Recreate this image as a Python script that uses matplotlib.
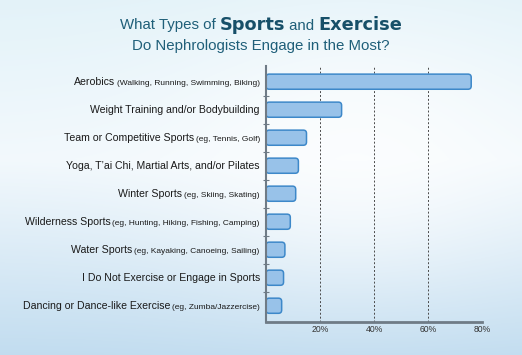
import numpy as np
import matplotlib
matplotlib.use("Agg")
import matplotlib.pyplot as plt
from matplotlib.patches import FancyBboxPatch

main_labels = [
    "Aerobics",
    "Weight Training and/or Bodybuilding",
    "Team or Competitive Sports",
    "Yoga, T\u2019ai Chi, Martial Arts, and/or Pilates",
    "Winter Sports",
    "Wilderness Sports",
    "Water Sports",
    "I Do Not Exercise or Engage in Sports",
    "Dancing or Dance-like Exercise",
]
paren_labels = [
    "(Walking, Running, Swimming, Biking)",
    "",
    "(eg, Tennis, Golf)",
    "",
    "(eg, Skiing, Skating)",
    "(eg, Hunting, Hiking, Fishing, Camping)",
    "(eg, Kayaking, Canoeing, Sailing)",
    "",
    "(eg, Zumba/Jazzercise)",
]
values = [76, 28, 15, 12, 11, 9, 7, 6.5, 5.8]
xticks = [20, 40, 60, 80]
xtick_labels = ["20%", "40%", "60%", "80%"]

FONT = "Liberation Sans"
plt.rcParams["font.family"] = [FONT, "DejaVu Sans"]

W, H = 522, 355
fig = plt.figure(figsize=(W / 100, H / 100), dpi=100)

# background gradient
bg = fig.add_axes([0, 0, 1, 1], zorder=-10)
yy, xx = np.mgrid[0:1:200j, 0:1:300j]
top = np.array([0.89, 0.95, 0.975])
mid = np.array([0.95, 0.975, 0.99])
bot = np.array([0.76, 0.865, 0.94])
t = yy[..., None]
col = np.where(t < 0.45, top + (mid - top) * (t / 0.45), mid + (bot - mid) * ((t - 0.45) / 0.55))
glow = np.exp(-(((xx - 0.68) / 0.35) ** 2 + ((yy - 0.42) / 0.38) ** 2))[..., None]
col = col + (1 - col) * 0.7 * glow
col = np.clip(col, 0, 1)
bg.imshow(col, aspect="auto", extent=[0, 1, 0, 1], origin="upper")
bg.set_axis_off()

ax = fig.add_axes([266 / W, 1 - 321.7 / H, (482 - 266) / W, (321.7 - 66) / H])
ax.patch.set_alpha(0)
n = len(values)
ax.set_xlim(0, 80)
ax.set_ylim(n - 1 + 0.57, -0.56)

px_x = 216 / 80.0
px_y = 28.0
bar_h = 0.54
r = 3.2
for i, v in enumerate(values):
    p = FancyBboxPatch((0, i - bar_h / 2), v, bar_h,
                       boxstyle=f"round,pad=0,rounding_size={r / px_x}",
                       mutation_aspect=px_x / px_y,
                       facecolor="#98c2e9", edgecolor="#3d88c9", linewidth=1.1, zorder=3)
    ax.add_patch(p)

for x in xticks:
    ax.axvline(x, color="#4a4a4a", linestyle=(0, (2.0, 2.0)), linewidth=0.7, zorder=1)

for s in ["top", "right"]:
    ax.spines[s].set_visible(False)
ax.spines["bottom"].set_color("#6f7b86")
ax.spines["bottom"].set_linewidth(2)
ax.spines["left"].set_color("#6f7b86")
ax.spines["left"].set_linewidth(1.5)
ax.spines["left"].set_zorder(4)

ax.set_xticks(xticks)
ax.set_xticklabels(xtick_labels, fontsize=6.2, color="#333333")
ax.tick_params(axis="x", length=0, pad=2.5)
ax.set_yticks([])
ax.set_yticks([i + 0.5 for i in range(n - 1)], minor=True)
ax.tick_params(axis="y", which="minor", direction="inout", length=5, width=0.8, color="#6f7b86")

ytr = ax.get_yaxis_transform()
for i, (m, p) in enumerate(zip(main_labels, paren_labels)):
    if p:
        pt = ax.annotate(p, xy=(0, i), xycoords=ytr, xytext=(-4.5, -2.5),
                         textcoords="offset points", ha="right", va="baseline",
                         fontsize=6.0, color="#1a1a1a")
        ax.annotate(m, xy=(0, i), xycoords=(pt, ytr), xytext=(-1.3, -2.5),
                    textcoords="offset points", ha="right", va="baseline",
                    fontsize=7.6, color="#1a1a1a")
    else:
        ax.annotate(m, xy=(0, i), xycoords=ytr, xytext=(-4.5, -2.5),
                    textcoords="offset points", ha="right", va="baseline",
                    fontsize=7.6, color="#1a1a1a")

# title
renderer = fig.canvas.get_renderer()
tcol = "#1f5f79"
parts = [("What Types of ", "normal", [FONT], 10.8), ("Sports", "bold", ["DejaVu Sans"], 12.8),
         (" and ", "normal", [FONT], 10.8), ("Exercise", "bold", ["DejaVu Sans"], 12.8)]
objs = []
for s, w, fam, fs in parts:
    o = fig.text(0, 1 - 29.5 / H, s, fontsize=fs,
                 fontweight=w, family=fam, color=tcol if w == "normal" else "#175069",
                 va="baseline", ha="left")
    objs.append(o)
widths = [o.get_window_extent(renderer).width for o in objs]
total = sum(widths)
x0 = 261 - total / 2
for o, wdt in zip(objs, widths):
    o.set_x(x0 / W)
    x0 += wdt
fig.text(261 / W, 1 - 50 / H, "Do Nephrologists Engage in the Most?", fontsize=10.8,
         color=tcol, ha="center", va="baseline")

fig.savefig("out.png", dpi=100)
